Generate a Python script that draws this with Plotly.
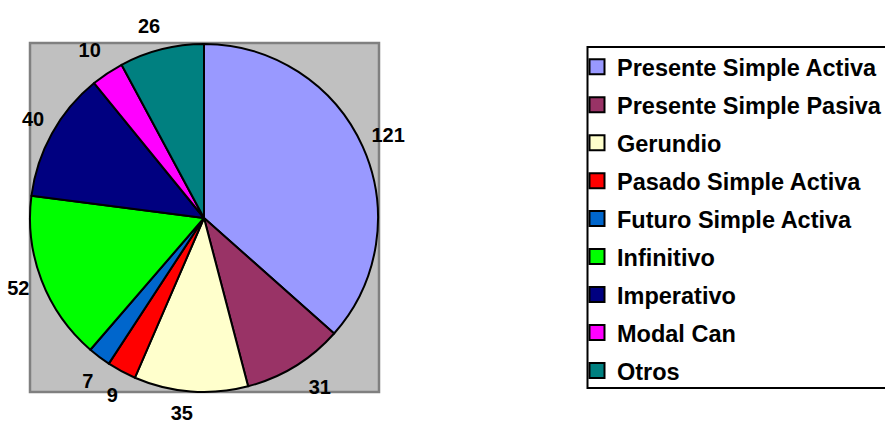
import plotly.graph_objects as go

categories = ["Presente Simple Activa", "Presente Simple Pasiva", "Gerundio",
              "Pasado Simple Activa", "Futuro Simple Activa", "Infinitivo",
              "Imperativo", "Modal Can", "Otros"]
values = [121, 31, 35, 9, 7, 52, 40, 10, 26]
colors = ["#9999FF", "#993366", "#FFFFCC", "#FF0000", "#0066CC",
          "#00FF00", "#000080", "#FF00FF", "#008080"]

W, H = 885, 423
FONT = "Liberation Sans, Arial, sans-serif"
CX, CY, R = 204, 218, 174      # pie centre / radius in px

# each value label is placed by plotly's own "outside" text of a transparent
# pie; ring radius (px) and small angular nudge (deg) per category
label_place = {
    "Presente Simple Activa": (181, -2.3),
    "Presente Simple Pasiva": (189.5, 0.0),
    "Gerundio": (184, -2.6),
    "Pasado Simple Activa": (186.5, -2.7),
    "Futuro Simple Activa": (188, -3.0),
    "Infinitivo": (182.5, -1.2),
    "Imperativo": (181.5, 2.7),
    "Modal Can": (187.5, 2.3),
    "Otros": (185, 2.2),
}


def px_dom(cx, cy, r):
    return dict(x=[(cx - r) / W, (cx + r) / W],
                y=[(H - cy - r) / H, (H - cy + r) / H])


fig = go.Figure()

# visible pie
fig.add_trace(go.Pie(
    labels=categories, values=values, sort=False,
    direction="clockwise", rotation=0,
    marker=dict(colors=colors, line=dict(color="black", width=2)),
    textinfo="none", showlegend=False,
    domain=px_dom(CX, CY, R),
    hoverinfo="label+value",
))

lab_font = dict(family=FONT, size=20, color="black", weight="bold")
for cat, (rl, rot) in label_place.items():
    fig.add_trace(go.Pie(
        labels=categories, values=values, sort=False,
        direction="clockwise", rotation=rot,
        marker=dict(colors=["rgba(0,0,0,0)"] * len(values),
                    line=dict(color="rgba(0,0,0,0)", width=0)),
        textinfo="value",
        textposition=["outside" if c == cat else "none" for c in categories],
        textfont=lab_font, outsidetextfont=lab_font,
        showlegend=False, hoverinfo="skip",
        domain=px_dom(CX, CY, rl),
    ))

# legend entries
for name, col in zip(categories, colors):
    fig.add_trace(go.Scatter(
        x=[None], y=[None], mode="markers", name=name, legendgroup=name,
        marker=dict(symbol="square", size=15, color=col,
                    line=dict(color="black", width=2)),
        hoverinfo="skip",
    ))

# grey plot area
fig.add_shape(type="rect", xref="paper", yref="paper",
              x0=30 / W, x1=379 / W, y0=(H - 392) / H, y1=(H - 43) / H,
              fillcolor="#C0C0C0", line=dict(color="#808080", width=2.5),
              layer="below")
# legend frame
fig.add_shape(type="rect", xref="paper", yref="paper",
              x0=587.5 / W, x1=(W + 20) / W, y0=(H - 388) / H, y1=(H - 47) / H,
              fillcolor="rgba(0,0,0,0)", line=dict(color="black", width=2),
              layer="above")

fig.update_layout(
    width=W, height=H,
    margin=dict(l=0, r=0, t=0, b=0, autoexpand=False),
    paper_bgcolor="white", plot_bgcolor="rgba(0,0,0,0)",
    xaxis=dict(visible=False), yaxis=dict(visible=False),
    showlegend=True,
    legend=dict(
        x=577 / W, y=1 - 45 / H, xanchor="left", yanchor="top",
        borderwidth=0, bgcolor="rgba(0,0,0,0)",
        font=dict(family=FONT, size=23.5, color="black", weight="bold"),
        traceorder="grouped", tracegroupgap=4.4, itemclick=False,
    ),
)

fig.write_html("out.html", config={"displayModeBar": False},
               post_script="document.body.style.margin='0';document.body.style.overflow='hidden';")
